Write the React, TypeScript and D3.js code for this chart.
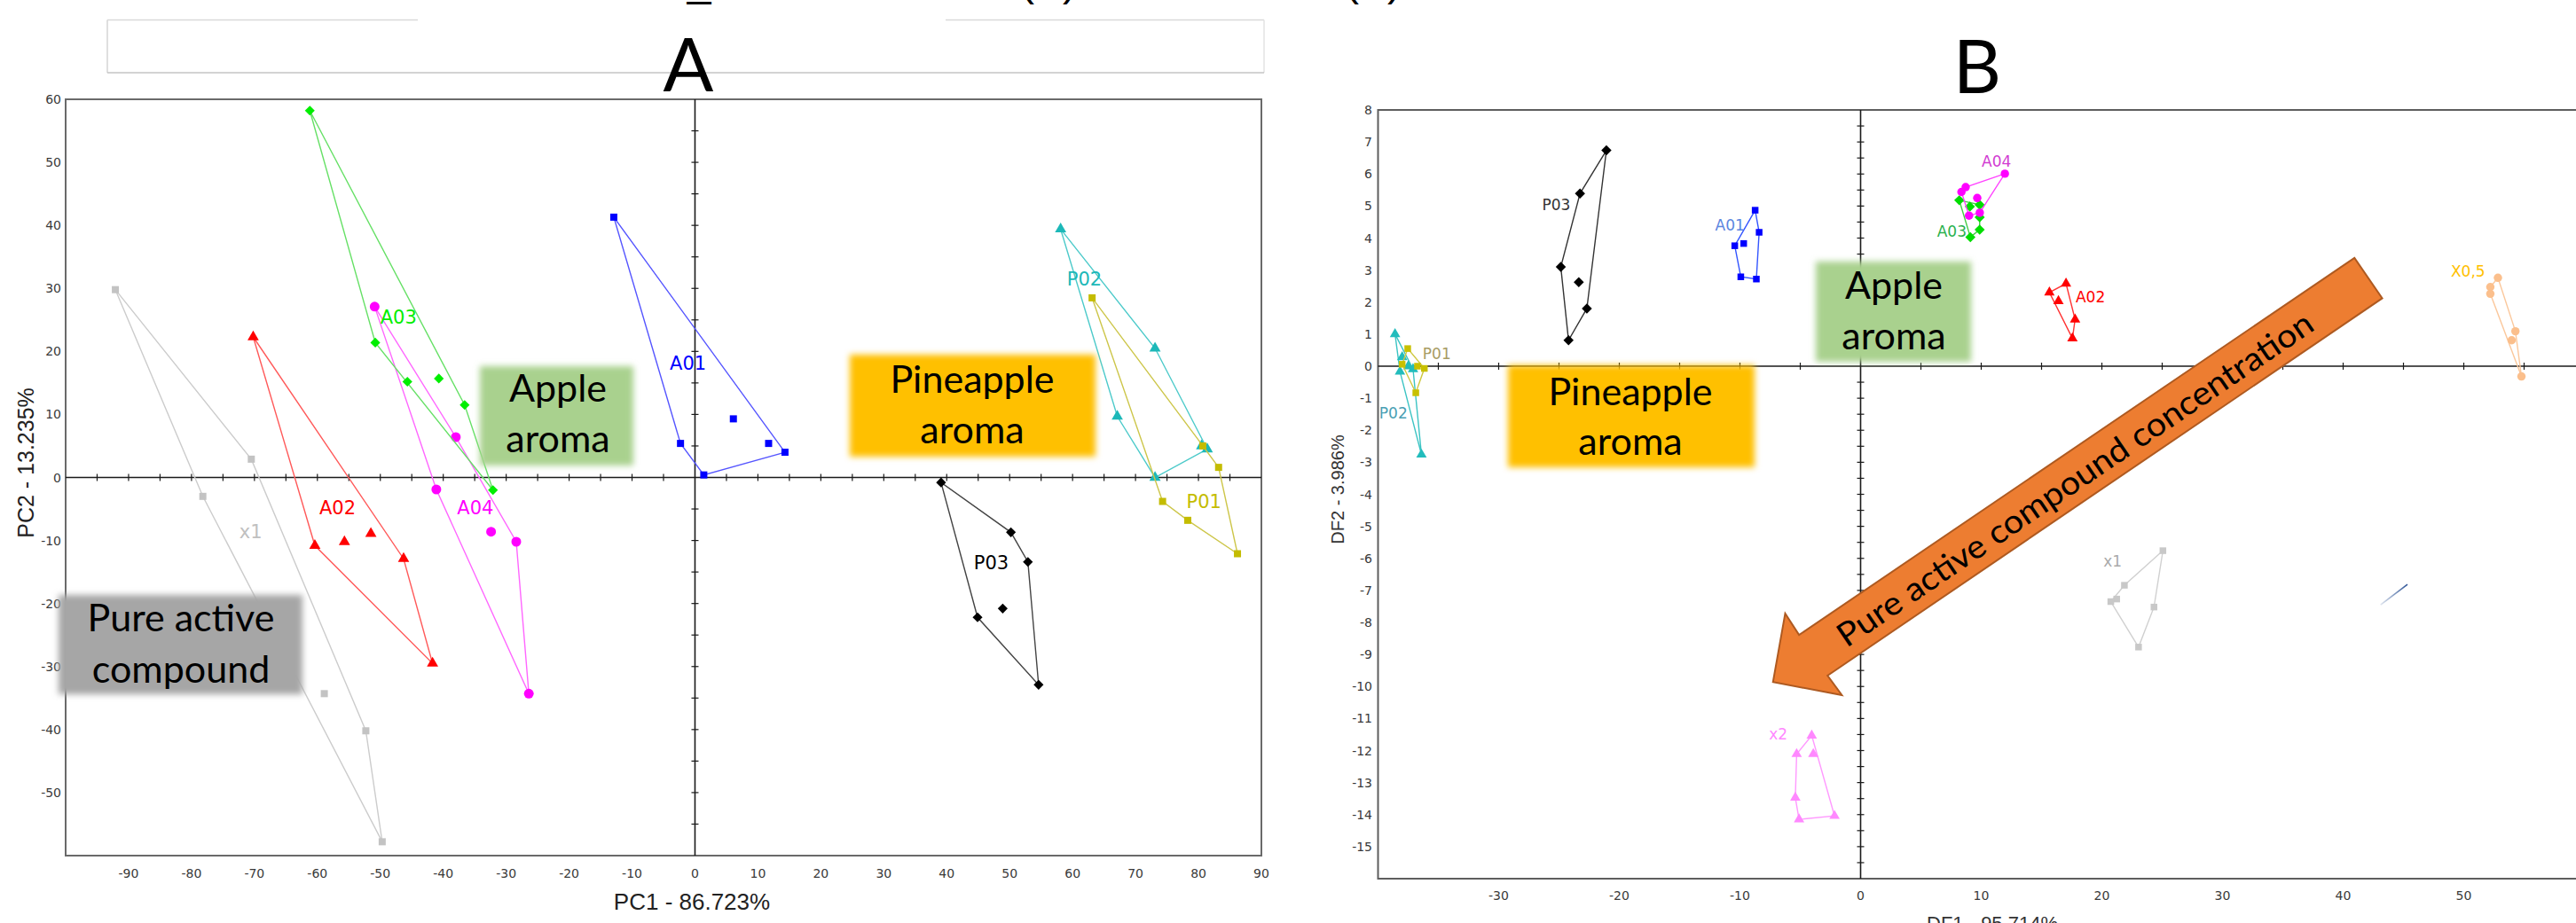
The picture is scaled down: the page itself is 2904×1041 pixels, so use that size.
import React from "react";
import * as d3 from "d3";

type P = [number, number];

// ---------------- Chart A: PCA scores (PC1 vs PC2) ----------------
const pcaA01: P[] = [[-12.9, 41.3], [-2.3, 5.4], [1.4, 0.4], [6.1, 9.3], [11.7, 5.4], [14.3, 4.0]];
const pcaA02: P[] = [[-70.2, 22.3], [-60.4, -10.8], [-55.7, -10.2], [-51.5, -8.9], [-46.3, -12.9], [-41.7, -29.5]];
const pcaA03: P[] = [[-61.2, 58.2], [-50.8, 21.4], [-45.7, 15.2], [-40.7, 15.7], [-36.6, 11.5], [-32.1, -2.0]];
const pcaA04: P[] = [[-50.9, 27.1], [-38.0, 6.4], [-41.1, -1.9], [-32.4, -8.6], [-28.4, -10.2], [-26.4, -34.3]];
const pcaX1: P[] = [[-92.1, 29.8], [-70.5, 2.9], [-78.2, -3.0], [-58.9, -34.3], [-52.3, -40.2], [-49.7, -57.8]];
const pcaP01: P[] = [[63.1, 28.5], [80.7, 5.0], [83.2, 1.6], [74.3, -3.8], [78.3, -6.8], [86.2, -12.1]];
const pcaP02: P[] = [[58.1, 39.4], [73.1, 20.5], [67.1, 9.7], [80.5, 5.0], [81.4, 4.5], [73.1, 0.0]];
const pcaP03: P[] = [[39.1, -0.8], [50.2, -8.7], [52.9, -13.4], [48.9, -20.8], [44.9, -22.2], [54.6, -32.9]];

const pcaXTickLabels = [-90, -80, -70, -60, -50, -40, -30, -20, -10, 0, 10, 20, 30, 40, 50, 60, 70, 80, 90];
const pcaYTickLabels = [60, 50, 40, 30, 20, 10, 0, -10, -20, -30, -40, -50];

// ---------------- Chart B: DFA scores (DF1 vs DF2) ----------------
const dfaP03: P[] = [[-21.07, 6.74], [-23.26, 5.39], [-24.85, 3.1], [-23.36, 2.62], [-22.69, 1.8], [-24.21, 0.81]];
const dfaA01: P[] = [[-8.74, 4.87], [-8.41, 4.18], [-9.69, 3.83], [-10.43, 3.76], [-9.93, 2.79], [-8.64, 2.72]];
const dfaP02: P[] = [[-38.59, 1.0], [-38.0, 0.28], [-37.5, 0.0], [-37.1, -0.09], [-38.18, -0.17], [-36.4, -2.76]];
const dfaP01: P[] = [[-37.54, 0.55], [-38.0, 0.06], [-36.73, 0.0], [-36.16, -0.07], [-36.87, -0.83]];
const dfaA04: P[] = [[11.96, 6.01], [8.71, 5.59], [8.36, 5.44], [9.67, 5.25], [8.99, 4.7], [9.88, 4.79]];
const dfaA03: P[] = [[8.18, 5.18], [9.06, 4.98], [9.87, 5.04], [9.87, 4.65], [9.87, 4.26], [9.1, 4.03]];
const dfaA02: P[] = [[17.03, 2.58], [15.65, 2.3], [16.4, 2.03], [17.78, 1.46], [17.56, 0.87]];
const dfaX05: P[] = [[52.83, 2.76], [52.2, 2.47], [52.2, 2.26], [54.28, 1.09], [53.97, 0.81], [54.78, -0.32]];
const dfaX1: P[] = [[25.06, -5.76], [21.87, -6.84], [21.23, -7.27], [20.74, -7.35], [24.32, -7.52], [23.04, -8.77]];
const dfaX2: P[] = [[-4.05, -11.53], [-5.3, -12.11], [-3.92, -12.11], [-5.41, -13.47], [-5.1, -14.15], [-2.16, -14.04]];
const dfaStray: P[] = [[43.1, -7.45], [45.33, -6.81]];

const dfaXTickLabels = [-30, -20, -10, 0, 10, 20, 30, 40, 50, 60];
const dfaYTickLabels = [8, 7, 6, 5, 4, 3, 2, 1, 0, -1, -2, -3, -4, -5, -6, -7, -8, -9, -10, -11, -12, -13, -14, -15];

// arrow outline (DF1, DF2 coordinates): tail, shaft, head
const arrowOutline: P[] = [[40.94, 3.38], [-5.1, -8.39], [-6.25, -7.72], [-7.26, -9.86], [-1.55, -10.27], [-2.74, -9.66], [43.24, 2.12]];

// ---------------- styling ----------------
type Shape = "square" | "triangle" | "diamond" | "circle";
interface Group {
  name: string;
  pts: P[];
  shape: Shape;
  fill: string;
  line: string;
  labelColor: string;
  label: P;
}

const groupsA: Group[] = [
  { name: "x1", pts: pcaX1, shape: "square", fill: "#c3c3c3", line: "#cccccc", labelColor: "#c0c0c0", label: [-72.4, -9.6] },
  { name: "A02", pts: pcaA02, shape: "triangle", fill: "#ff0000", line: "#ff5a5a", labelColor: "#ff0000", label: [-59.7, -5.8] },
  { name: "A04", pts: pcaA04, shape: "circle", fill: "#ff00ff", line: "#ff66ff", labelColor: "#ff00ff", label: [-37.8, -5.8] },
  { name: "A03", pts: pcaA03, shape: "diamond", fill: "#00ee00", line: "#66e066", labelColor: "#00ee00", label: [-50.0, 24.4] },
  { name: "A01", pts: pcaA01, shape: "square", fill: "#0000ff", line: "#5555ff", labelColor: "#0000ff", label: [-4.0, 17.1] },
  { name: "P02", pts: pcaP02, shape: "triangle", fill: "#1cb8b8", line: "#4ccaca", labelColor: "#1cb8b8", label: [59.1, 30.5] },
  { name: "P01", pts: pcaP01, shape: "square", fill: "#c4bc00", line: "#cdc64a", labelColor: "#c4bc00", label: [78.1, -4.9] },
  { name: "P03", pts: pcaP03, shape: "diamond", fill: "#000000", line: "#444444", labelColor: "#000000", label: [44.3, -14.5] },
];

const groupsB: Group[] = [
  { name: "P03", pts: dfaP03, shape: "diamond", fill: "#000000", line: "#333333", labelColor: "#333333", label: [-26.4, 4.88] },
  { name: "A01", pts: dfaA01, shape: "square", fill: "#0000ff", line: "#3355ff", labelColor: "#5b86e0", label: [-12.05, 4.24] },
  { name: "P02", pts: dfaP02, shape: "triangle", fill: "#22bcbc", line: "#3cc4c4", labelColor: "#4aa0b4", label: [-39.9, -1.62] },
  { name: "P01", pts: dfaP01, shape: "square", fill: "#c8c000", line: "#cfc840", labelColor: "#a89c64", label: [-36.3, 0.22] },
  { name: "A03", pts: dfaA03, shape: "diamond", fill: "#00dd00", line: "#44cc44", labelColor: "#2bb14d", label: [6.34, 4.03] },
  { name: "A04", pts: dfaA04, shape: "circle", fill: "#ff00ff", line: "#ff44ff", labelColor: "#d23cd2", label: [10.04, 6.22] },
  { name: "A02", pts: dfaA02, shape: "triangle", fill: "#ff0000", line: "#ff3333", labelColor: "#ff0000", label: [17.83, 2.0] },
  { name: "X0,5", pts: dfaX05, shape: "circle", fill: "#fbbf8c", line: "#fbc89c", labelColor: "#ffc000", label: [48.93, 2.79] },
  { name: "x1", pts: dfaX1, shape: "square", fill: "#c8c8c8", line: "#d0d0d0", labelColor: "#aaaaaa", label: [20.13, -6.25] },
  { name: "x2", pts: dfaX2, shape: "triangle", fill: "#ff88ff", line: "#ff99ff", labelColor: "#ff88ff", label: [-7.6, -11.65] },
];

const FONT_TICK = "'DejaVu Sans', Verdana, sans-serif";
const FONT_AXIS = "'Liberation Sans', Arial, sans-serif";
const FONT_BOX = "Lato, 'Open Sans', sans-serif";

const W = 2904;
const H = 1041;

// scales
const xA = d3.scaleLinear().domain([-100, 90]).range([74, 1422]);
const yA = d3.scaleLinear().domain([-60, 60]).range([965, 112]);
const xB = d3.scaleLinear().domain([-40, 65]).range([1553.5, 2981.5]);
const yB = d3.scaleLinear().domain([-16, 8]).range([991, 124]);

const symType: Record<Shape, d3.SymbolType> = {
  square: d3.symbolSquare,
  triangle: d3.symbolTriangle,
  diamond: d3.symbolSquare,
  circle: d3.symbolCircle,
};

function Markers({ g, x, y, sizes }: { g: Group; x: any; y: any; sizes: Record<Shape, number> }) {
  const d = d3.symbol().type(symType[g.shape]).size(sizes[g.shape])() as string;
  const pix = g.pts.map(([a, b]) => [x(a), y(b)] as [number, number]);
  const hull = d3.polygonHull(pix);
  return (
    <g>
      {hull && (
        <path d={"M" + hull.map((p) => p.join(",")).join("L") + "Z"} fill="none" stroke={g.line} strokeWidth={1.4} />
      )}
      {pix.map(([px, py], i) => (
        <path
          key={i}
          d={d}
          fill={g.fill}
          transform={`translate(${px},${py})${g.shape === "diamond" ? " rotate(45)" : ""}`}
        />
      ))}
    </g>
  );
}

function SoftBox({ x0, y0, x1, y1, color, lines, cx, baselines }: any) {
  return (
    <g>
      <rect x={x0} y={y0} width={x1 - x0} height={y1 - y0} fill={color} filter="url(#soft)" />
      {lines.map((t: string, i: number) => (
        <text key={i} x={cx} y={baselines[i]} textAnchor="middle" fontFamily={FONT_BOX} fontSize={43} fill="#000">
          {t}
        </text>
      ))}
    </g>
  );
}

export default function App() {
  // ticks
  const aXMinor = d3.range(-95, 90, 5).filter((v) => v !== 0);
  const aYMinor = d3.range(-55, 60, 5).filter((v) => v !== 0);
  const bXMinor = d3.range(-35, 65, 5).filter((v) => v !== 0);
  const bYMinor = d3.range(-15.5, 8, 0.5).filter((v) => v !== 0);

  const sizesA: Record<Shape, number> = { square: 64, triangle: 70, diamond: 62, circle: 95 };
  const sizesB: Record<Shape, number> = { square: 56, triangle: 60, diamond: 66, circle: 70 };

  // arrow geometry
  const arrowPix = arrowOutline.map(([a, b]) => [xB(a), yB(b)] as [number, number]);
  const tailMid: P = [(arrowPix[0][0] + arrowPix[6][0]) / 2, (arrowPix[0][1] + arrowPix[6][1]) / 2];
  const neckMid: P = [(arrowPix[1][0] + arrowPix[5][0]) / 2, (arrowPix[1][1] + arrowPix[5][1]) / 2];
  const tPos: P = [neckMid[0] + 0.47 * (tailMid[0] - neckMid[0]), neckMid[1] + 0.47 * (tailMid[1] - neckMid[1])];
  const ang = (Math.atan2(tailMid[1] - neckMid[1], tailMid[0] - neckMid[0]) * 180) / Math.PI;

  return (
    <svg
      width={W}
      height={H}
      viewBox={`0 0 ${W} ${H}`}
      style={{ position: "absolute", left: 0, top: 0, display: "block", background: "#fff" }}
    >
      <defs>
        <filter id="soft" x="-15%" y="-25%" width="130%" height="150%">
          <feGaussianBlur stdDeviation="3.5" />
        </filter>
        <linearGradient id="strayGrad" x1="0" y1="0" x2="1" y2="0">
          <stop offset="0" stopColor="#2f5597" stopOpacity={0.15} />
          <stop offset="1" stopColor="#2f5597" stopOpacity={1} />
        </linearGradient>
      </defs>
      <rect x={0} y={0} width={W} height={H} fill="#fff" />

      {/* clipped caption remnants at the very top */}
      <g fontFamily={FONT_AXIS} fontSize={48} fill="#000" textAnchor="middle">
        <text x={788} y={-5}>_</text>
        <text x={1182} y={-5}>(A)</text>
        <text x={1548} y={-5}>(B)</text>
      </g>

      {/* empty frame above chart A */}
      <g fill="none">
        <line x1={121} y1={22.5} x2={471} y2={22.5} stroke="#d9d9d9" strokeWidth={1.5} />
        <line x1={1066} y1={22.5} x2={1425} y2={22.5} stroke="#d9d9d9" strokeWidth={1.5} />
        <line x1={1425} y1={22.5} x2={1425} y2={82} stroke="#e3e3e3" strokeWidth={1.5} />
        <line x1={121} y1={22.5} x2={121} y2={82} stroke="#d5d5d5" strokeWidth={1.5} />
        <line x1={121} y1={82} x2={1425} y2={82} stroke="#c4c4c4" strokeWidth={1.5} />
      </g>

      {/* panel titles */}
      <text x={776} y={103} textAnchor="middle" fontFamily={FONT_BOX} fontSize={84} fill="#000">A</text>
      <text x={2229} y={105} textAnchor="middle" fontFamily={FONT_BOX} fontSize={84} fill="#000">B</text>

      {/* ================= Chart A ================= */}
      <g>
        <rect x={xA(-100)} y={yA(60)} width={xA(90) - xA(-100)} height={yA(-60) - yA(60)} fill="none" stroke="#6a6a6a" strokeWidth={2} />
        <line x1={xA(-100)} x2={xA(90)} y1={yA(0)} y2={yA(0)} stroke="#1a1a1a" strokeWidth={1.6} />
        <line x1={xA(0)} x2={xA(0)} y1={yA(60)} y2={yA(-60)} stroke="#1a1a1a" strokeWidth={1.6} />
        {aXMinor.map((v) => (
          <line key={"ax" + v} x1={xA(v)} x2={xA(v)} y1={yA(0) - 4} y2={yA(0) + 4} stroke="#1a1a1a" strokeWidth={1.2} />
        ))}
        {aYMinor.map((v) => (
          <line key={"ay" + v} x1={xA(0) - 4} x2={xA(0) + 4} y1={yA(v)} y2={yA(v)} stroke="#1a1a1a" strokeWidth={1.2} />
        ))}
        <g fontFamily={FONT_TICK} fontSize={14} fill="#3a3a3a">
          {pcaXTickLabels.map((v) => (
            <text key={"axl" + v} x={xA(v)} y={990} textAnchor="middle">{v}</text>
          ))}
          {pcaYTickLabels.map((v) => (
            <text key={"ayl" + v} x={69} y={yA(v)} dy="0.36em" textAnchor="end">{v}</text>
          ))}
        </g>
        <text x={780} y={1026} textAnchor="middle" fontFamily={FONT_AXIS} fontSize={26} fill="#222">PC1 - 86.723%</text>
        <text transform={`translate(38,522) rotate(-90)`} textAnchor="middle" fontFamily={FONT_AXIS} fontSize={25} fill="#222">PC2 - 13.235%</text>

        {groupsA.map((g) => (
          <Markers key={g.name} g={g} x={xA} y={yA} sizes={sizesA} />
        ))}
        <g fontFamily={FONT_TICK} fontSize={21}>
          {groupsA.map((g) => (
            <text key={"la" + g.name} x={xA(g.label[0])} y={yA(g.label[1])} fill={g.labelColor}>{g.name}</text>
          ))}
        </g>

        <SoftBox x0={541} y0={413} x1={714} y1={525} color="#a9d18e" lines={["Apple", "aroma"]} cx={629} baselines={[453, 510]} />
        <SoftBox x0={958} y0={400} x1={1235} y1={515} color="#ffc000" lines={["Pineapple", "aroma"]} cx={1096} baselines={[443, 500]} />
        <SoftBox x0={66} y0={671} x1={341} y1={783} color="#a6a6a6" lines={["Pure active", "compound"]} cx={204} baselines={[712, 770]} />
      </g>

      {/* ================= Chart B ================= */}
      <g>
        <rect x={xB(-40)} y={yB(8)} width={xB(65) - xB(-40)} height={yB(-16) - yB(8)} fill="none" stroke="#5e5e5e" strokeWidth={2} />
        <line x1={xB(-40)} x2={xB(65)} y1={yB(0)} y2={yB(0)} stroke="#1a1a1a" strokeWidth={1.6} />
        <line x1={xB(0)} x2={xB(0)} y1={yB(8)} y2={yB(-16)} stroke="#1a1a1a" strokeWidth={1.6} />
        {bXMinor.map((v) => (
          <line key={"bx" + v} x1={xB(v)} x2={xB(v)} y1={yB(0) - 4} y2={yB(0) + 4} stroke="#1a1a1a" strokeWidth={1.2} />
        ))}
        {bYMinor.map((v) => (
          <line key={"by" + v} x1={xB(0) - 4} x2={xB(0) + 4} y1={yB(v)} y2={yB(v)} stroke="#1a1a1a" strokeWidth={1.2} />
        ))}
        <g fontFamily={FONT_TICK} fontSize={14} fill="#3a3a3a">
          {dfaXTickLabels.map((v) => (
            <text key={"bxl" + v} x={xB(v)} y={1015} textAnchor="middle">{v}</text>
          ))}
          {dfaYTickLabels.map((v) => (
            <text key={"byl" + v} x={1547} y={yB(v)} dy="0.36em" textAnchor="end">{v}</text>
          ))}
        </g>
        <text x={2246} y={1049} textAnchor="middle" fontFamily={FONT_AXIS} fontSize={22} fill="#333">DF1 - 95.714%</text>
        <text transform={`translate(1515,552) rotate(-90)`} textAnchor="middle" fontFamily={FONT_AXIS} fontSize={20} fill="#333">DF2 - 3.986%</text>

        {groupsB.map((g) => (
          <Markers key={g.name} g={g} x={xB} y={yB} sizes={sizesB} />
        ))}
        <line x1={xB(dfaStray[0][0])} y1={yB(dfaStray[0][1])} x2={xB(dfaStray[1][0])} y2={yB(dfaStray[1][1])} stroke="url(#strayGrad)" strokeWidth={1.6} />
        <g fontFamily={FONT_TICK} fontSize={17}>
          {groupsB.map((g) => (
            <text key={"lb" + g.name} x={xB(g.label[0])} y={yB(g.label[1])} fill={g.labelColor}>{g.name}</text>
          ))}
        </g>

        <SoftBox x0={2047} y0={295} x1={2222} y1={408} color="#a9d18e" lines={["Apple", "aroma"]} cx={2135} baselines={[337, 394]} />
        <SoftBox x0={1700} y0={412} x1={1978} y1={527} color="#ffc000" lines={["Pineapple", "aroma"]} cx={1838} baselines={[457, 513]} />

        <path d={"M" + arrowPix.map((p) => p.join(",")).join("L") + "Z"} fill="#ed7d31" stroke="#ae5a21" strokeWidth={2} strokeLinejoin="miter" />
        <text
          transform={`translate(${tPos[0]},${tPos[1]}) rotate(${ang})`}
          textAnchor="middle"
          dominantBaseline="central"
          fontFamily={FONT_BOX}
          fontSize={37}
          textLength={640}
          lengthAdjust="spacingAndGlyphs"
          fill="#000"
        >
          Pure active compound concentration
        </text>
      </g>
    </svg>
  );
}
